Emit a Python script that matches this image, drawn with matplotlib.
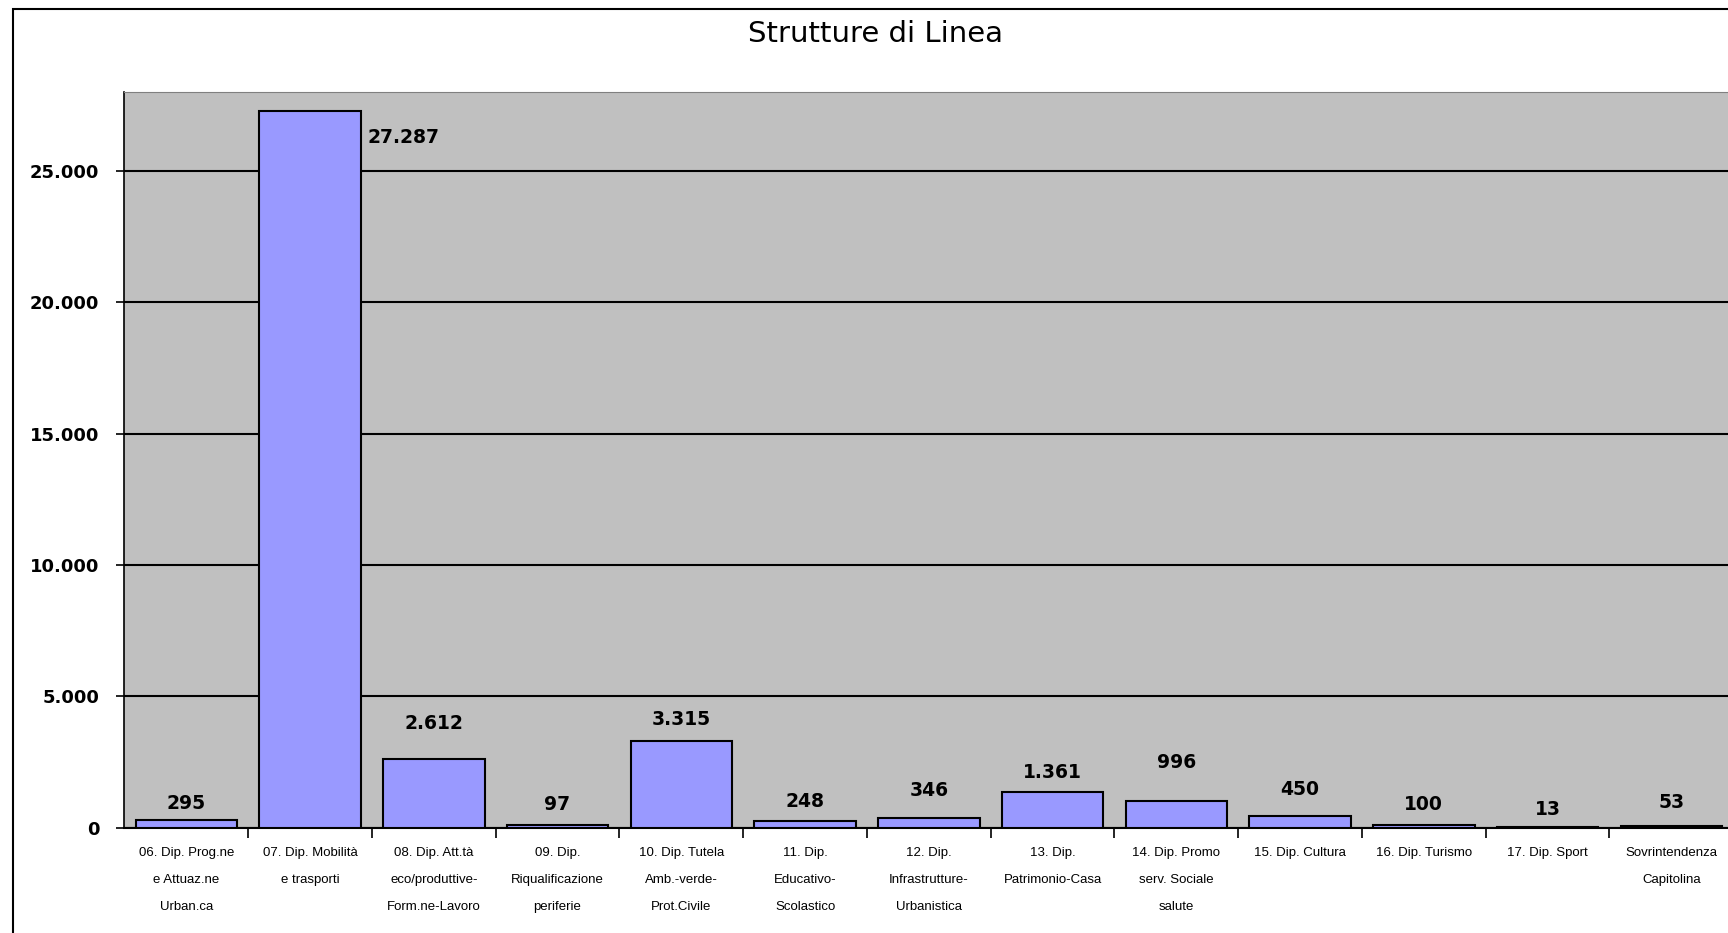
import matplotlib
matplotlib.use("Agg")
import matplotlib.pyplot as plt
from matplotlib.patches import Rectangle
from matplotlib.ticker import FuncFormatter, MultipleLocator, FixedLocator

categories = [
    "06. Dip. Prog.ne\ne Attuaz.ne\nUrban.ca",
    "07. Dip. Mobilità\ne trasporti",
    "08. Dip. Att.tà\neco/produttive-\nForm.ne-Lavoro",
    "09. Dip.\nRiqualificazione\nperiferie",
    "10. Dip. Tutela\nAmb.-verde-\nProt.Civile",
    "11. Dip.\nEducativo-\nScolastico",
    "12. Dip.\nInfrastrutture-\nUrbanistica",
    "13. Dip.\nPatrimonio-Casa",
    "14. Dip. Promo\nserv. Sociale\nsalute",
    "15. Dip. Cultura",
    "16. Dip. Turismo",
    "17. Dip. Sport",
    "Sovrintendenza\nCapitolina",
]
values = [295, 27287, 2612, 97, 3315, 248, 346, 1361, 996, 450, 100, 13, 53]
title = "Strutture di Linea"

# label offsets in points (styling only)
label_dy = [5, 0, 19, 8, 8, 7, 13, 7, 21, 12, 8, 6, 10]

def fmt(v):
    return f"{int(v):,}".replace(",", ".")

fig = plt.figure(figsize=(17.28, 9.33), dpi=100)
fig.patch.set_facecolor("white")
ax = fig.add_axes([0.072, 0.113, 0.931, 0.788])
ax.set_facecolor("#C0C0C0")

x = list(range(len(values)))
ax.bar(x, values, width=0.82, color="#9999FF", edgecolor="black", linewidth=1.5, zorder=3)

ax.set_xlim(-0.5, len(values) - 0.5)
ax.set_ylim(0, 28000)
ax.yaxis.set_major_locator(MultipleLocator(5000))
ax.yaxis.set_major_formatter(FuncFormatter(lambda v, p: fmt(v)))
ax.grid(axis="y", color="black", linewidth=1.5, zorder=1)
ax.set_axisbelow(True)

ax.xaxis.set_major_locator(FixedLocator(x))
ax.set_xticklabels(categories, fontsize=9.5, family="Liberation Sans", linespacing=2.65, va="top")
ax.tick_params(axis="x", which="major", length=0, pad=14)
ax.xaxis.set_minor_locator(FixedLocator([i + 0.5 for i in x[:-1]]))
ax.tick_params(axis="x", which="minor", length=7, width=1.2, direction="out")
ax.tick_params(axis="y", length=6, width=1.2, direction="out", pad=12, labelsize=13)
for lab in ax.get_yticklabels():
    lab.set_fontweight("bold")
    lab.set_family("DejaVu Sans")

ax.spines["top"].set_color("#808080")
ax.spines["right"].set_visible(False)
ax.spines["left"].set_color("black")
ax.spines["left"].set_linewidth(1.2)
ax.spines["bottom"].set_color("black")
ax.spines["bottom"].set_linewidth(1.5)

for i, v in enumerate(values):
    if v > 25000:
        ax.annotate(fmt(v), xy=(i + 0.41, v), xytext=(5, -12), textcoords="offset points",
                    ha="left", va="top", fontsize=13.5, fontweight="bold", family="DejaVu Sans")
    else:
        ax.annotate(fmt(v), xy=(i, v), xytext=(0, label_dy[i]), textcoords="offset points",
                    ha="center", va="bottom", fontsize=13.5, fontweight="bold", family="DejaVu Sans")

fig.text(876 / 1728, 1 - 34 / 933, title, ha="center", va="center", fontsize=21, family="DejaVu Sans")

fig.patches.append(Rectangle((13 / 1728, -0.01), 1.0, 1 - 9 / 933 + 0.01, transform=fig.transFigure,
                             fill=False, edgecolor="black", linewidth=1.5))

fig.savefig("out.png", dpi=100)
